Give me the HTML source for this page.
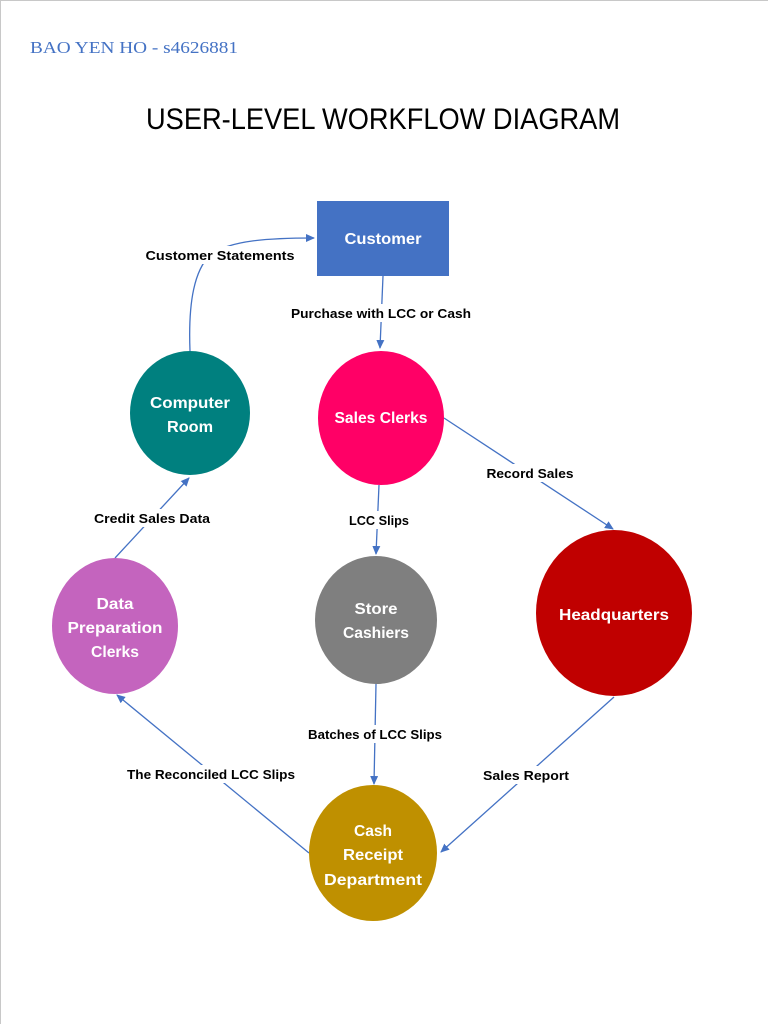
<!DOCTYPE html>
<html><head><meta charset="utf-8"><style>
html,body{margin:0;padding:0;background:#fff;width:768px;height:1024px;overflow:hidden;}
svg{display:block;}
</style></head><body>
<svg width="768" height="1024" viewBox="0 0 768 1024" xmlns="http://www.w3.org/2000/svg">
<defs>
<marker id="a" markerWidth="10" markerHeight="10" refX="8" refY="4" orient="auto" markerUnits="userSpaceOnUse">
<path d="M0,0 L9,4 L0,8 Z" fill="#4472C4"/></marker>
</defs>
<rect x="0.5" y="0.5" width="780" height="1040" fill="none" stroke="#c8c8c8"/>
<text x="30" y="53" font-family="Liberation Serif, serif" font-size="17" fill="#4472C4" textLength="208" lengthAdjust="spacingAndGlyphs">BAO YEN HO - s4626881</text>
<text x="146" y="129" font-family="Liberation Sans, sans-serif" font-size="30" fill="#000" textLength="474" lengthAdjust="spacingAndGlyphs">USER-LEVEL WORKFLOW DIAGRAM</text>

<g stroke="#4472C4" stroke-width="1.3" fill="none" marker-end="url(#a)">
<line x1="383" y1="276" x2="380" y2="348"/>
<path d="M190,351 C188,300 195,270 210,255 C230,240 270,238 314,238"/>
<line x1="444" y1="418" x2="613" y2="529"/>
<line x1="379" y1="485" x2="376" y2="554"/>
<line x1="115" y1="558" x2="189" y2="478"/>
<line x1="376" y1="684" x2="374" y2="784"/>
<line x1="614" y1="697" x2="441" y2="852"/>
<line x1="309" y1="853" x2="117" y2="695"/>
</g>

<g font-family="Liberation Sans, sans-serif" font-weight="bold" font-size="13" fill="#000" text-anchor="middle">
<rect x="290" y="304" width="184" height="18" fill="#fff"/>
<text x="381" y="318" textLength="180" lengthAdjust="spacingAndGlyphs">Purchase with LCC or Cash</text>
<rect x="144" y="246" width="152" height="18" fill="#fff"/>
<text x="220" y="260" textLength="149" lengthAdjust="spacingAndGlyphs">Customer Statements</text>
<rect x="485" y="464" width="92" height="18" fill="#fff"/>
<text x="530" y="478" textLength="87" lengthAdjust="spacingAndGlyphs">Record Sales</text>
<rect x="346" y="511" width="66" height="18" fill="#fff"/>
<text x="379" y="525" textLength="60" lengthAdjust="spacingAndGlyphs">LCC Slips</text>
<rect x="92" y="509" width="120" height="18" fill="#fff"/>
<text x="152" y="523" textLength="116" lengthAdjust="spacingAndGlyphs">Credit Sales Data</text>
<rect x="306" y="725" width="138" height="18" fill="#fff"/>
<text x="375" y="739" textLength="134" lengthAdjust="spacingAndGlyphs">Batches of LCC Slips</text>
<rect x="481" y="766" width="90" height="18" fill="#fff"/>
<text x="526" y="780" textLength="86" lengthAdjust="spacingAndGlyphs">Sales Report</text>
<rect x="126" y="765" width="172" height="18" fill="#fff"/>
<text x="211" y="779" textLength="168" lengthAdjust="spacingAndGlyphs">The Reconciled LCC Slips</text>
</g>

<rect x="317" y="201" width="132" height="75" fill="#4472C4"/>
<ellipse cx="381" cy="418" rx="63" ry="67" fill="#FF0066"/>
<ellipse cx="190" cy="413" rx="60" ry="62" fill="#00807F"/>
<ellipse cx="376" cy="620" rx="61" ry="64" fill="#7F7F7F"/>
<ellipse cx="614" cy="613" rx="78" ry="83" fill="#C00000"/>
<ellipse cx="115" cy="626" rx="63" ry="68" fill="#C464BE"/>
<ellipse cx="373" cy="853" rx="64" ry="68" fill="#BF9000"/>

<g font-family="Liberation Sans, sans-serif" font-weight="bold" font-size="16" fill="#fff" text-anchor="middle">
<text x="383" y="244" textLength="77" lengthAdjust="spacingAndGlyphs">Customer</text>
<text x="381" y="423" textLength="93" lengthAdjust="spacingAndGlyphs">Sales Clerks</text>
<text x="190" y="408" textLength="80" lengthAdjust="spacingAndGlyphs">Computer</text>
<text x="190" y="432" textLength="46" lengthAdjust="spacingAndGlyphs">Room</text>
<text x="376" y="614" textLength="43" lengthAdjust="spacingAndGlyphs">Store</text>
<text x="376" y="638" textLength="66" lengthAdjust="spacingAndGlyphs">Cashiers</text>
<text x="614" y="620" textLength="110" lengthAdjust="spacingAndGlyphs">Headquarters</text>
<text x="115" y="609" textLength="37" lengthAdjust="spacingAndGlyphs">Data</text>
<text x="115" y="633" textLength="95" lengthAdjust="spacingAndGlyphs">Preparation</text>
<text x="115" y="657" textLength="48" lengthAdjust="spacingAndGlyphs">Clerks</text>
<text x="373" y="836" textLength="38" lengthAdjust="spacingAndGlyphs">Cash</text>
<text x="373" y="860" textLength="60" lengthAdjust="spacingAndGlyphs">Receipt</text>
<text x="373" y="885" textLength="98" lengthAdjust="spacingAndGlyphs">Department</text>
</g>
</svg>
</body></html>
